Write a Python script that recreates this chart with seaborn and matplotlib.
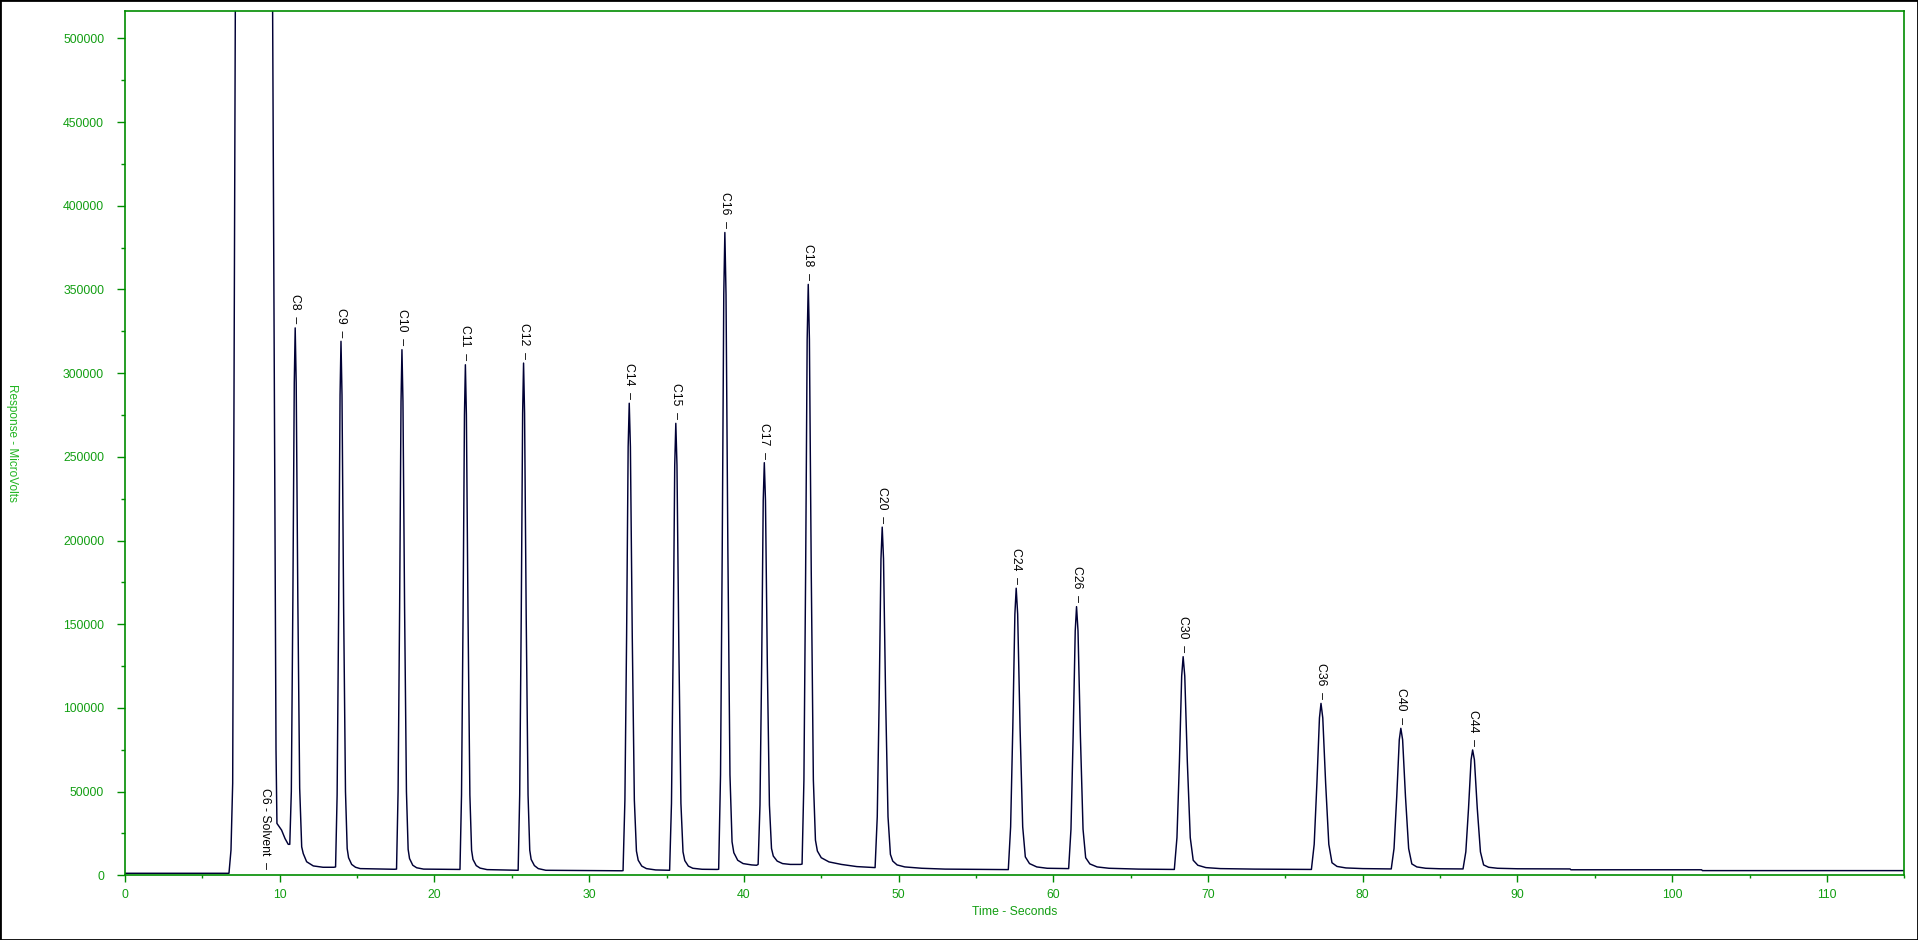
import matplotlib
matplotlib.use("Agg")
import matplotlib.pyplot as plt
import pandas as pd
import seaborn as sns
from matplotlib.ticker import MultipleLocator, FuncFormatter
from matplotlib.patches import Rectangle

# ---------------- data ----------------
# trace (time in seconds, response in microvolts), one line per region
trace_time = [
    0.0, 6.72, 6.85, 6.96, 7.16, 9.50, 9.76, 9.82, 10.12, 10.34, 10.55,                 # baseline + solvent
    10.65, 10.75, 10.85, 10.94, 11.00, 11.065, 11.17, 11.29, 11.42, 11.52, 11.74, 12.17, 12.8, 13.5,   # C8
    13.61, 13.71, 13.81, 13.90, 13.96, 14.025, 14.13, 14.25, 14.36, 14.45, 14.65, 14.9, 15.2, 17.4,   # C9
    17.55, 17.65, 17.75, 17.84, 17.90, 17.965, 18.07, 18.19, 18.30, 18.39, 18.6, 18.85, 19.3, 21.55,  # C10
    21.65, 21.75, 21.85, 21.94, 22.00, 22.065, 22.17, 22.29, 22.40, 22.49, 22.7, 22.95, 23.4, 25.3,   # C11
    25.41, 25.51, 25.61, 25.70, 25.76, 25.825, 25.93, 26.05, 26.16, 26.25, 26.46, 26.71, 27.2, 32.1,  # C12
    32.19, 32.31, 32.42, 32.52, 32.59, 32.665, 32.785, 32.92, 33.055, 33.17, 33.4, 33.7, 34.3, 35.1,  # C14
    35.20, 35.32, 35.43, 35.53, 35.60, 35.675, 35.795, 35.93, 36.065, 36.18, 36.41, 36.7, 37.3, 38.27,  # C15
    38.37, 38.49, 38.60, 38.70, 38.77, 38.845, 38.965, 39.10, 39.235, 39.35, 39.6, 39.95, 40.5, 40.82,  # C16
    40.92, 41.04, 41.15, 41.25, 41.32, 41.395, 41.515, 41.65, 41.785, 41.9, 42.15, 42.5, 43.0, 43.66,  # C17
    43.76, 43.88, 43.99, 44.09, 44.16, 44.235, 44.355, 44.49, 44.625, 44.75, 45.0, 45.5, 46.3, 47.3, 48.38,  # C18
    48.48, 48.62, 48.745, 48.86, 48.94, 49.025, 49.16, 49.315, 49.47, 49.62, 49.9, 50.4, 51.5, 53.0, 56.99,  # C20
    57.09, 57.24, 57.38, 57.515, 57.60, 57.695, 57.85, 58.02, 58.19, 58.46, 58.93, 59.6, 60.89,       # C24
    60.99, 61.14, 61.28, 61.415, 61.50, 61.595, 61.75, 61.92, 62.09, 62.36, 62.83, 63.6, 65.5, 67.72,  # C26
    67.82, 67.99, 68.15, 68.295, 68.39, 68.495, 68.66, 68.85, 69.04, 69.34, 69.86, 70.8, 73.0, 76.58,  # C30
    76.68, 76.86, 77.035, 77.20, 77.30, 77.415, 77.60, 77.805, 78.01, 78.335, 78.91, 80.0, 81.74,     # C36
    81.84, 82.02, 82.195, 82.36, 82.46, 82.575, 82.76, 82.965, 83.17, 83.495, 84.07, 85.0, 86.38,     # C40
    86.48, 86.66, 86.835, 87.00, 87.10, 87.215, 87.40, 87.605, 87.81, 88.135, 88.71, 90.0, 93.4,      # C44
    93.45, 101.9, 101.95, 115.0,                                                              # end baseline
]
trace_response = [
    1200, 1200, 15000, 55000, 600000, 600000, 75000, 31000, 27000, 22000, 18500,
    18500, 50000, 165000, 294000, 327000, 294000, 165000, 52000, 17000, 13000, 8100, 5600, 4800, 4800,
    5000, 48000, 160000, 287000, 319000, 287000, 160000, 50000, 16000, 10500, 6500, 4800, 4000, 3600,
    3700, 50000, 160000, 283000, 314000, 283000, 160000, 50000, 15500, 10000, 6000, 4500, 3700, 3500,
    3500, 48000, 155000, 275000, 305000, 275000, 155000, 48000, 15000, 9500, 5800, 4300, 3400, 3000,
    3000, 48000, 155000, 276000, 306000, 276000, 155000, 48000, 15000, 9500, 5800, 4000, 3000, 2700,
    2800, 45000, 143000, 256000, 282000, 256000, 143000, 45000, 14500, 9000, 5500, 4000, 3200, 3000,
    3000, 43000, 137000, 245000, 270000, 245000, 137000, 43000, 14000, 8800, 5500, 4200, 3600, 3500,
    3600, 60000, 194000, 347000, 384000, 347000, 194000, 60000, 20000, 13500, 9000, 7000, 6200, 6000,
    6500, 42000, 126000, 224000, 246500, 224000, 126000, 42000, 16000, 11500, 8500, 7000, 6500, 6500,
    6700, 57000, 180000, 320000, 353000, 320000, 180000, 57000, 21000, 14500, 10500, 8000, 6500, 5200, 4600,
    4600, 35000, 106000, 189000, 208000, 189000, 106000, 35000, 12500, 8500, 6200, 5000, 4200, 3700, 3400,
    3400, 29000, 88000, 156000, 171500, 156000, 88000, 29000, 11000, 7000, 5000, 4200, 4000,
    4000, 27500, 83000, 146000, 160500, 146000, 83000, 27500, 10500, 6800, 5000, 4200, 3700, 3500,
    3500, 22500, 68000, 119000, 130600, 119000, 68000, 22500, 9000, 6000, 4600, 4000, 3700, 3500,
    3500, 18500, 55000, 94000, 102700, 94000, 55000, 18500, 7500, 5300, 4400, 4000, 3800,
    3800, 16000, 47000, 81000, 87800, 81000, 47000, 16000, 6800, 5000, 4200, 3900, 3800,
    3800, 14000, 40000, 69000, 74900, 69000, 40000, 14000, 6200, 4800, 4200, 3900, 3800,
    3300, 3300, 2800, 2800,
]

# peak labels (name, retention time, apex response)
peak_names = ["C6 - Solvent", "C8", "C9", "C10", "C11", "C12", "C14", "C15", "C16", "C17",
              "C18", "C20", "C24", "C26", "C30", "C36", "C40", "C44"]
peak_times = [9.05, 11.00, 13.96, 17.90, 22.00, 25.76, 32.59, 35.60, 38.77, 41.32,
              44.16, 48.94, 57.60, 61.50, 68.39, 77.30, 82.46, 87.10]
peak_heights = [1200, 327000, 319000, 314000, 305000, 306000, 282000, 270000, 384000, 246500,
                353000, 208000, 171500, 160500, 130600, 102700, 87800, 74900]

x_ticks = [0, 10, 20, 30, 40, 50, 60, 70, 80, 90, 100, 110]
y_ticks = [0, 50000, 100000, 150000, 200000, 250000, 300000, 350000, 400000, 450000, 500000]

# ---------------- drawing ----------------
sns.set_theme(style="white")
plt.rcParams["font.family"] = ["Liberation Sans", "DejaVu Sans"]

GREEN_AX = "#008c00"
GREEN_TXT = "#129e12"
TRACE = "#000035"

W, H = 1918, 940
fig = plt.figure(figsize=(W / 100, H / 100), dpi=100)
fig.patch.set_facecolor("white")
ax = fig.add_axes([125 / W, 1 - 875.3 / H, (1904.3 - 125) / W, (875.3 - 10.7) / H])
ax.set_facecolor("white")

df = pd.DataFrame({"Time": trace_time, "Response": trace_response})
sns.lineplot(data=df, x="Time", y="Response", ax=ax, color=TRACE, linewidth=1.05,
             sort=False, estimator=None)

ax.set_xlim(0, 115)
ax.set_ylim(0, 516500)

ax.xaxis.set_minor_locator(MultipleLocator(5))
ax.yaxis.set_minor_locator(MultipleLocator(25000))
ax.set_xticks(x_ticks)
ax.set_yticks(y_ticks)
ax.yaxis.set_major_formatter(FuncFormatter(lambda v, p: f"{int(round(v))}"))
ax.xaxis.set_major_formatter(FuncFormatter(lambda v, p: f"{int(round(v))}"))

ax.tick_params(axis="both", which="both", direction="out", colors=GREEN_AX,
               labelcolor=GREEN_TXT, labelsize=8.8, width=1.0)
ax.tick_params(axis="y", which="major", length=5.5, pad=9.5)
ax.tick_params(axis="y", which="minor", length=3.0)
ax.tick_params(axis="x", which="major", length=5.0, pad=5.0)
ax.tick_params(axis="x", which="minor", length=2.5)
ax.tick_params(bottom=True, left=True, top=False, right=False, which="both")

for s in ax.spines.values():
    s.set_color(GREEN_AX)
    s.set_linewidth(1.2)
    s.set_visible(True)

ax.set_xlabel("Time - Seconds", color=GREEN_TXT, fontsize=8.8)
ax.xaxis.set_label_coords(0.5, (875.3 - 912.3) / 864.6)
ax.xaxis.label.set_va("center")
ax.set_ylabel("Response - MicroVolts", color="#22b422", fontsize=8.5, rotation=270)
ax.yaxis.set_label_coords((12 - 125) / 1779.3, 0.5)
ax.yaxis.label.set_va("center")
ax.yaxis.label.set_ha("center")

for name, t, h in zip(peak_names, peak_times, peak_heights):
    ax.annotate(f"{name}  \u2013", xy=(t, h), xytext=(0, 3), textcoords="offset points",
                rotation=-90, ha="center", va="bottom", fontsize=8.8, color="black",
                annotation_clip=False)

fig.add_artist(Rectangle((0, 0), 1, 1, transform=fig.transFigure, fill=False,
                         edgecolor="black", linewidth=2.0))

fig.savefig("out.png", dpi=100, facecolor="white")
